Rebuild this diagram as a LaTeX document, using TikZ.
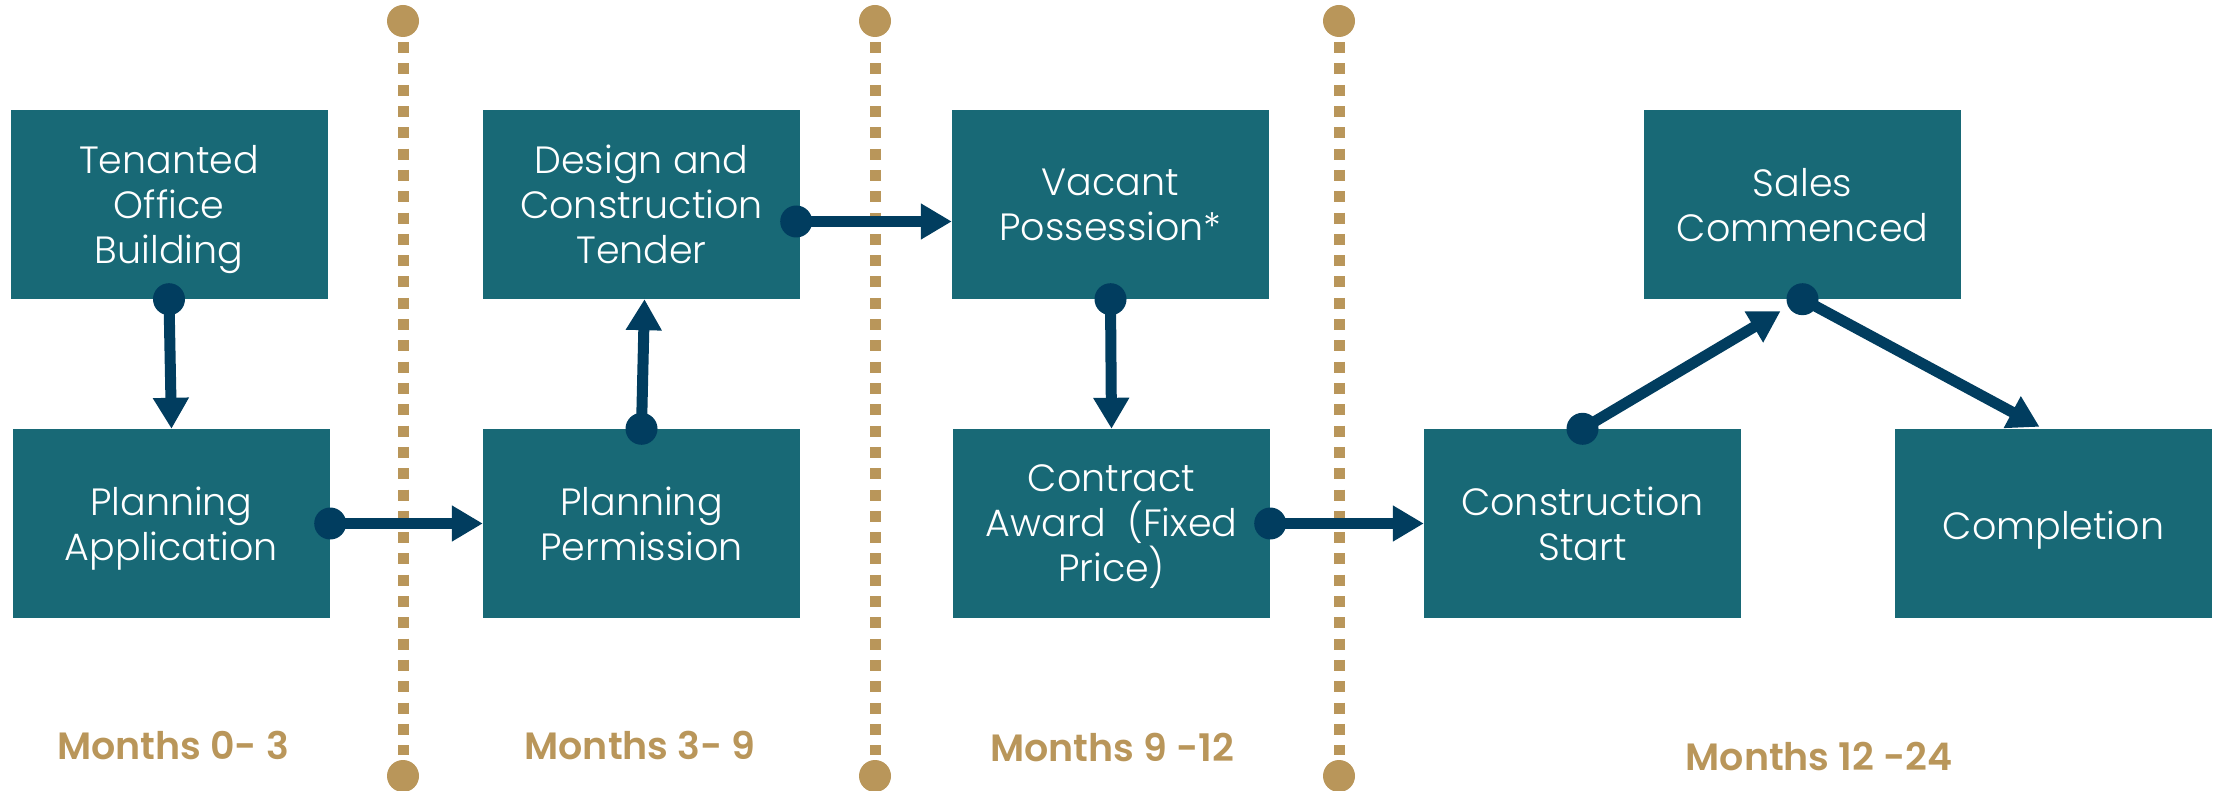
\documentclass[tikz,border=0pt]{standalone}
\usepackage{fontspec}
\setmainfont{Poppins}
\newfontfamily\boxfont{Poppins Light}
\newfontfamily\labelfont{Poppins SemiBold}
\usetikzlibrary{arrows.meta,calc}

\definecolor{stageteal}{RGB}{24,105,118}
\definecolor{linknavy}{RGB}{1,61,95}
\definecolor{phasegold}{RGB}{185,150,90}

\tikzset{
  % struts on the first and last line keep baselines independent of the letters
  stagetext/.style={text=white, align=center, inner sep=0pt, yshift=-6pt,
    font=\boxfont\fontsize{38}{45}\selectfont,
    execute at begin node={\rule{0pt}{31pt}},
    execute at end node={\rule[-12pt]{0pt}{12pt}}},
  stage/.style={fill=stageteal, minimum width=317pt, minimum height=189pt,
    inner sep=0pt, label={[stagetext]center:{#1}}},
  month/.style={text=phasegold, inner sep=0pt,
    font=\labelfont\fontsize{38}{45}\selectfont},
  gdot/.style={circle, fill=phasegold, minimum size=32pt, inner sep=0pt},
  divider/.style={draw=phasegold, line width=11pt, dash pattern=on 11pt off 10.3pt,
    shorten <=5pt, shorten >=5pt},
  link/.style={draw=linknavy, line width=11pt,
    -{Triangle[length=31pt,width=34pt]}},
}

\begin{document}
\begin{tikzpicture}[x=1pt,y=-1pt]
\useasboundingbox (0,0) rectangle (2219,791);

% phase dividers
\foreach \i/\x in {1/403,2/875,3/1339}{
  \node[gdot] (top\i) at (\x,21) {};
  \node[gdot] (bot\i) at (\x,776) {};
  \draw[divider] (top\i) -- (bot\i);
}

% stages
\node[stage={Tenanted\\Office\\Building}]         (tob)  at (169,204.5)    {};
\node[stage={Planning\\Application}]              (pa)   at (171.5,523.5)  {};
\node[stage={Design and\\Construction\\Tender}]   (dct)  at (641.5,204.5)  {};
\node[stage={Planning\\Permission}]               (pp)   at (641.5,523.5)  {};
\node[stage={Vacant\\Possession*}]                (vp)   at (1110.5,204.5) {};
\node[stage={Contract\\Award\ \ (Fixed\\Price)}]  (ca)   at (1111.5,523.5) {};
\node[stage={Construction\\Start}]                (cs)   at (1582.5,523.5) {};
\node[stage={Sales\\Commenced}]                   (sc)   at (1802.5,204.5) {};
\node[stage={Completion}]                         (comp) at (2053.5,523.5) {};

% links between stages, each starting from a dot
\coordinate (s1) at (tob.south);
\coordinate (s2) at (pa.east);
\coordinate (s3) at (pp.north);
\coordinate (s4) at ($(dct.east)+(-4,17)$);
\coordinate (s5) at (vp.south);
\coordinate (s6) at (ca.east);
\coordinate (s7) at (cs.north);
\coordinate (s8) at (sc.south);

\draw[link] (s1) -- (pa.north);
\draw[link] (s2) -- (pp.west);
\draw[link] (s3) -- ($(dct.south)+(3,0)$);
\draw[link] (s4) -- ($(vp.west)+(0,17)$);
\draw[link] (s5) -- (ca.north);
\draw[link] (s6) -- (cs.west);
\draw[link] (s7) -- ($(sc.south)+(-22,12)$);
\draw[link] (s8) -- ($(comp.north)+(-14,-2)$);

\foreach \p in {s1,s2,s3,s4,s5,s6,s7,s8}
  \fill[linknavy] (\p) circle[radius=16pt];

% phase labels
\node[month] (m1) at (173,745)  {Months 0- 3};
\node[month] (m2) at (640,745)  {Months 3- 9};
\node[month] (m3) at (1112,747) {Months 9 -12};
\node[month] (m4) at (1819,757) {Months 12 -24};
\end{tikzpicture}
\end{document}
